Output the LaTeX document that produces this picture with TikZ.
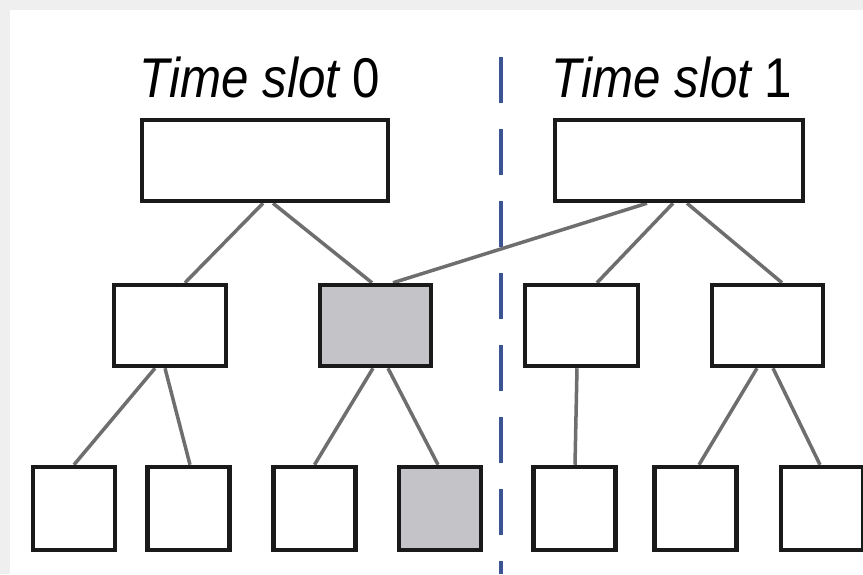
\documentclass[tikz,border=0pt]{standalone}
\usepackage{fontspec}
\setmainfont{Liberation Sans}
\usetikzlibrary{backgrounds}
\definecolor{frame}{HTML}{EFEFEF}
\definecolor{edgegray}{HTML}{6E6E6E}
\definecolor{boxline}{HTML}{1A1A1A}
\definecolor{shade}{HTML}{C4C4C8}
\definecolor{divider}{HTML}{3D5494}
\tikzset{
  treebox/.style={draw=boxline, line width=4.5pt, fill=white, inner sep=0pt},
  rootbox/.style={treebox, minimum width=246pt, minimum height=81pt},
  midbox/.style={treebox, minimum width=112pt, minimum height=81pt},
  leafbox/.style={treebox, minimum width=82pt, minimum height=83pt},
  marked/.style={fill=shade},
  link/.style={draw=edgegray, line width=3.5pt},
  slotlabel/.style={anchor=base, inner sep=0pt, font=\fontsize{56}{60}\selectfont},
}
\begin{document}
\begin{tikzpicture}[x=1pt, y=-1pt]
\useasboundingbox (0,0) rectangle (863,574);
% title labels
\node[slotlabel] (t0) at (260,97) {\scalebox{0.88}[1]{\itshape Time slot \upshape 0}};
\node[slotlabel] (t1) at (672,97) {\scalebox{0.88}[1]{\itshape Time slot \upshape 1}};
% roots
\node[rootbox] (rA) at (265,160.5) {};
\node[rootbox, minimum width=248pt] (rB) at (679,160.5) {};
% middle level
\node[midbox] (m1) at (170,325.5) {};
\node[midbox, marked, minimum width=111pt] (m2) at (375.5,325.5) {};
\node[midbox, minimum width=113pt] (m3) at (581.5,325.5) {};
\node[midbox, minimum width=111pt] (m4) at (767.5,325.5) {};
% leaves
\node[leafbox] (b1) at (74,508.5) {};
\node[leafbox] (b2) at (188.5,508.5) {};
\node[leafbox] (b3) at (314.5,508.5) {};
\node[leafbox, marked] (b4) at (440,508.5) {};
\node[leafbox] (b5) at (574.5,508.5) {};
\node[leafbox] (b6) at (695.5,508.5) {};
\node[leafbox] (b7) at (822,508.5) {};
% divider ends
\coordinate (dtop) at (501,57);
\coordinate (dbot) at (501,574);
\begin{pgfonlayer}{background}
  \fill[frame] (0,0) rectangle (863,574);
  \fill[white] (10,10) rectangle (863,574);
  \draw[divider, line width=3.5pt, dash pattern=on 46pt off 26pt] (dtop) -- (dbot);
  % root A
  \draw[link] ([xshift=-2pt]rA.south) -- ([xshift=15pt]m1.north);
  \draw[link] ([xshift=8pt]rA.south) -- ([xshift=-3.5pt]m2.north);
  % root B
  \draw[link] ([xshift=-32pt]rB.south) -- ([xshift=17.5pt]m2.north);
  \draw[link] ([xshift=-6pt]rB.south) -- ([xshift=15.5pt]m3.north);
  \draw[link] ([xshift=8pt]rB.south) -- ([xshift=14.5pt]m4.north);
  % middle to leaves
  \draw[link] ([xshift=-15pt]m1.south) -- (b1.north);
  \draw[link] ([xshift=-5pt]m1.south) -- ([xshift=1.5pt]b2.north);
  \draw[link] ([xshift=-2.5pt]m2.south) -- (b3.north);
  \draw[link] ([xshift=12.5pt]m2.south) -- ([xshift=-2pt]b4.north);
  \draw[link] ([xshift=-4.5pt]m3.south) -- ([xshift=0.5pt]b5.north);
  \draw[link] ([xshift=-10.5pt]m4.south) -- ([xshift=3.5pt]b6.north);
  \draw[link] ([xshift=5.5pt]m4.south) -- ([xshift=-2pt]b7.north);
\end{pgfonlayer}
\end{tikzpicture}
\end{document}
